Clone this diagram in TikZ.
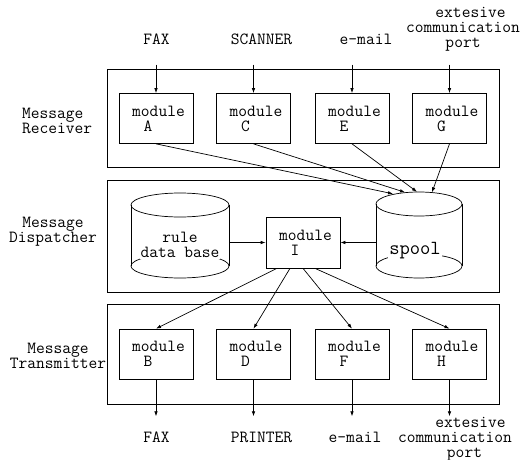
\documentclass[tikz,border=0pt]{standalone}
\usepackage{fontspec}
\usetikzlibrary{arrows.meta,calc}
\newcommand\modtext[1]{\hspace*{5pt}module\\\hspace*{16.5pt}#1}
\begin{document}
\begin{tikzpicture}[x=1pt,y=-1pt,
 every node/.style={font=\ttfamily\fontsize{17}{15}\selectfont, inner sep=0pt},
 frame/.style={draw, line width=0.7pt, minimum width=392pt},
 module/.style={draw, line width=0.7pt, minimum width=74pt, minimum height=50pt, align=left},
 conn/.style={line width=0.7pt, -{Latex[length=5pt,width=3.5pt]}},
 cyl/.style={line width=0.7pt}]
\useasboundingbox (0,0) rectangle (530,460);

% layers
\node[frame, minimum height=98pt] (recv) at (303,118) {};
\node[frame, minimum height=112pt] (disp) at (303,236) {};
\node[frame, minimum height=100pt] (trans) at (303,354) {};

\node[anchor=west, align=left] (lrecv) at (22,120.5) {Message\\Receiver};
\node[align=center] (ldisp) at (53,232) {Message\\Dispatcher};
\node[align=center] (ltrans) at (58,356) {Message\\Transmitter};

% modules
\node[module] (A) at (156,118.5) {\modtext{A}};
\node[module] (C) at (253.5,118.5) {\modtext{C}};
\node[module] (E) at (352,118.5) {\modtext{E}};
\node[module] (G) at (449.5,118.5) {\modtext{G}};
\node[module] (B) at (156,354) {\modtext{B}};
\node[module] (D) at (253.5,354) {\modtext{D}};
\node[module] (F) at (352,354) {\modtext{F}};
\node[module] (H) at (449.5,354) {\modtext{H}};
\node[module, minimum height=51pt] (I) at (303,242.5) {\modtext{I}};

% cylinders
\draw[cyl] (131,205) -- (131,266) (229,205) -- (229,266);
\draw[cyl] (180,205) ellipse [x radius=49pt, y radius=12pt];
\draw[cyl] (180,266) ellipse [x radius=49pt, y radius=12pt];
\draw[cyl] (376,204) -- (376,266) (462,204) -- (462,266);
\draw[cyl] (419,204) ellipse [x radius=43pt, y radius=12pt];
\draw[cyl] (419,266) ellipse [x radius=43pt, y radius=12pt];
\node[minimum width=98pt, minimum height=86pt] (rule) at (180,235.5) {};
\node[minimum width=86pt, minimum height=86pt] (spool) at (419,235) {};
\node[fill=white, align=center, inner sep=1pt] (ruletext) at (180,245) {rule\\data base};
\node[fill=white, inner sep=1pt, font=\ttfamily\fontsize{20}{20}\selectfont] (spooltext) at (415,251) {spool};

\draw[conn] (rule.east |- I.west) -- (I.west);
\draw[conn] (spool.west |- I.east) -- (I.east);

% inputs
\node (tFAX) at (156.5,39) {FAX};
\node (tSCAN) at (261.5,39) {SCANNER};
\node (tMAIL) at (366,39) {e-mail};
\node[align=center] (tPORT) at (463,29) {\hspace*{15pt}extesive\\communication\\port};
\foreach \m in {A,C,E,G}{
  \coordinate (in\m) at ($(\m.north)+(0,-28.5)$);
  \draw[conn] (in\m) -- (\m.north);
}

% receiver -> spool
\coordinate (s1) at ($(spool.north)+(-26,2)$);
\coordinate (s2) at ($(spool.north)+(-14,0.5)$);
\coordinate (s3) at ($(spool.north)+(-2,0)$);
\coordinate (s4) at ($(spool.north)+(13,0.5)$);
\draw[conn] (A.south) -- (s1);
\draw[conn] (C.south) -- (s2);
\draw[conn] (E.south) -- (s3);
\draw[conn] (G.south) -- (s4);

% dispatcher -> transmitter
\draw[conn] ($(I.south)+(-26,0)$) -- (B.north);
\draw[conn] ($(I.south)+(-13,0)$) -- (D.north);
\draw[conn] (I.south) -- (F.north);
\draw[conn] ($(I.south)+(12,0)$) -- (H.north);

% outputs
\foreach \m in {B,D,F,H}{
  \coordinate (out\m) at ($(\m.south)+(0,37)$);
  \draw[conn] (\m.south) -- (out\m);
}
\node (bFAX) at (156.5,437) {FAX};
\node (bPRN) at (261.5,437) {PRINTER};
\node (bMAIL) at (355,437) {e-mail};
\node[align=center] (bPORT) at (455,439) {\hspace*{31pt}extesive\\communication\\\hspace*{19pt}port};
\end{tikzpicture}
\end{document}
